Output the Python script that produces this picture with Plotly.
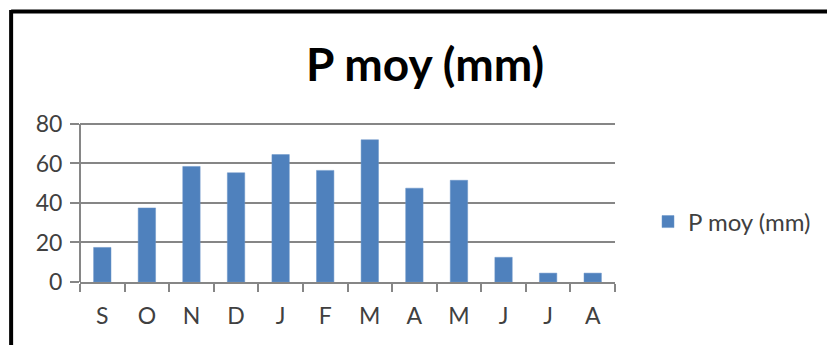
import plotly.graph_objects as go

months = ["S", "O", "N", "D", "J", "F", "M", "A", "M ", "J ", "J  ", "A "]
month_labels = ["S", "O", "N", "D", "J", "F", "M", "A", "M", "J", "J", "A"]
p_moy = [17.5, 37.5, 58.5, 55.3, 64.5, 56.5, 72, 47.5, 51.5, 12.5, 4.5, 4.5]
series_name = "P moy (mm)"
y_ticks = [0, 20, 40, 60, 80]

W, H = 827, 345
Y_TOP = 81.0
L, R, B = 80, 211, 63
y0_px, y80_px = 282, 124
unit = (y0_px - y80_px) / 80
T = y0_px - Y_TOP * unit
pw, ph = W - L - R, H - T - B

def px_x(x):
    return (x - L) / pw

def px_y(y):
    return (H - B - y) / ph

fig = go.Figure()
fig.add_trace(go.Bar(
    x=months, y=p_moy, name=series_name,
    marker=dict(color="#4F81BD", line=dict(color="#6a95c8", width=0.5)),
    showlegend=True,
))

gray = "#868686"
fig.update_layout(
    width=W, height=H,
    margin=dict(l=L, r=R, t=T, b=B),
    paper_bgcolor="white", plot_bgcolor="white",
    font=dict(family="Lato, 'Open Sans', sans-serif", color="#404040", size=22),
    bargap=0.61,
    title=dict(text="<b>P moy (mm)</b>", x=425 / W, xanchor="center",
               y=1 - 65 / H, yanchor="middle", yref="container",
               font=dict(size=46, color="black", family="Lato, 'Open Sans', sans-serif")),
    legend=dict(x=px_x(648), y=px_y(222), xanchor="left", yanchor="middle",
                font=dict(size=24, color="#404040"), itemwidth=30),
    xaxis=dict(
        type="category", tickmode="array", tickvals=months, ticktext=month_labels,
        showline=True, linecolor=gray, linewidth=2,
        ticks="outside", ticklen=8, tickwidth=2, tickcolor=gray, tickson="boundaries",
        ticklabelstandoff=12,
        showgrid=False, zeroline=False, tickfont=dict(size=23, color="#404040"),
    ),
    yaxis=dict(
        range=[0, Y_TOP], tickvals=y_ticks, showline=False,
        ticks="outside", ticklen=9, tickwidth=2, tickcolor=gray,
        ticklabelstandoff=3,
        showgrid=True, gridcolor=gray, gridwidth=2, zeroline=False,
        tickfont=dict(size=23, color="#404040"),
    ),
)

# y axis line from 0 to 80 only
fig.add_shape(type="line", xref="paper", yref="y", x0=0, x1=0, y0=0, y1=80,
              line=dict(color=gray, width=2))

# outer black frame (top and left) of the original screenshot
fig.add_shape(type="line", xref="paper", yref="paper",
              x0=px_x(11), x1=px_x(W + 5), y0=px_y(11.5), y1=px_y(11.5),
              line=dict(color="black", width=4))
fig.add_shape(type="line", xref="paper", yref="paper",
              x0=px_x(11), x1=px_x(11), y0=px_y(10), y1=px_y(H + 5),
              line=dict(color="black", width=4))

fig.write_html("out.html")
